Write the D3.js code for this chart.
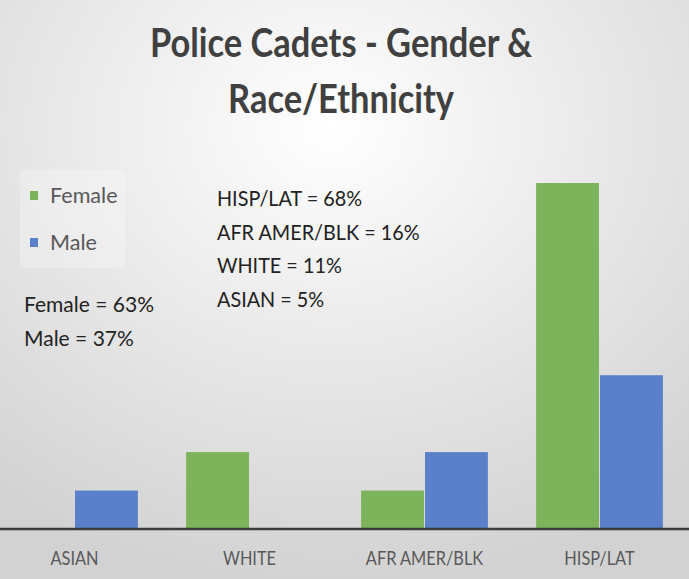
<!DOCTYPE html>
<html><head><meta charset="utf-8">
<script src="https://cdn.jsdelivr.net/npm/d3@7"></script>
<style>body{margin:0;background:#fff}svg{display:block}text{font-family:Lato,"Open Sans",sans-serif}</style>
</head><body><svg id="c" width="689" height="579"></svg>
<script>
const categories = ["ASIAN", "WHITE", "AFR AMER/BLK", "HISP/LAT"];
const seriesNames = ["Female", "Male"];
const femaleValues = [0, 2, 1, 9];
const maleValues = [1, 0, 2, 4];
const titleLines = ["Police Cadets - Gender &", "Race/Ethnicity"];
const genderNotes = ["Female = 63%", "Male = 37%"];
const raceNotes = ["HISP/LAT = 68%", "AFR AMER/BLK = 16%", "WHITE = 11%", "ASIAN = 5%"];
const colors = {Female: "#7db35a", Male: "#5a80c9"};

const W = 689, H = 579;
const svg = d3.select("#c");
const defs = svg.append("defs");
const rg = defs.append("radialGradient").attr("id","bg").attr("cx","48%").attr("cy","22%").attr("r","80%");
rg.append("stop").attr("offset","0%").attr("stop-color","#ffffff");
rg.append("stop").attr("offset","100%").attr("stop-color","#d2d2d2");
svg.append("rect").attr("width",W).attr("height",H).attr("fill","url(#bg)");

// horizontally condense text to mimic a narrow face
function condense(sel, f){
  sel.each(function(){
    const w = this.getComputedTextLength();
    d3.select(this).attr("textLength", w*f).attr("lengthAdjust","spacingAndGlyphs");
  });
}

const baseY = 529, topY = 183;
const x0 = d3.scaleBand().domain(categories).range([-13, 687]).paddingInner(0.27).paddingOuter(0.135);
const x1 = d3.scaleBand().domain(seriesNames).range([0, x0.bandwidth()]);
const y = d3.scaleLinear().domain([0, 9]).range([baseY, topY]);

const data = categories.map((c,i)=>({cat:c, vals:[{s:"Female", v:femaleValues[i]},{s:"Male", v:maleValues[i]}]}));
const g = svg.append("g");
g.selectAll("g.grp").data(data).join("g").attr("class","grp")
  .attr("transform", d=>`translate(${x0(d.cat)},0)`)
  .selectAll("rect").data(d=>d.vals.filter(e=>e.v>0)).join("rect")
  .attr("x", d=>x1(d.s)+0.5).attr("width", x1.bandwidth()-1)
  .attr("y", d=>y(d.v)).attr("height", d=>baseY - y(d.v))
  .attr("fill", d=>colors[d.s]);

// baseline axis
const ax = svg.append("g").attr("transform",`translate(0,${baseY})`)
  .call(d3.axisBottom(x0).tickSize(0));
ax.select(".domain").attr("stroke","#3c3c3c").attr("stroke-width",2.5).attr("d",`M0,0H${W}`);
ax.selectAll(".tick text").attr("font-family","Lato, sans-serif").attr("font-size",19)
  .attr("fill","#595959").attr("y",36).attr("dy",0).call(condense,0.86);

// title
svg.append("g").selectAll("text").data(titleLines).join("text")
  .attr("x", 341).attr("y",(d,i)=>57+i*56).attr("text-anchor","middle")
  .attr("font-size",41).attr("font-weight",700).attr("fill","#404040").text(d=>d)
  .call(condense,0.84);

// legend
svg.append("rect").attr("x",20).attr("y",170).attr("width",105).attr("height",98).attr("fill","#ffffff").attr("opacity",0.25);
const lg = svg.append("g").selectAll("g").data(seriesNames).join("g")
  .attr("transform",(d,i)=>`translate(30,${191+i*47})`);
lg.append("rect").attr("width",8).attr("height",9).attr("fill",d=>colors[d]);
lg.append("text").attr("x",20).attr("y",12).attr("font-size",22).attr("fill","#595959").text(d=>d).call(condense,0.98);

svg.append("g").selectAll("text").data(genderNotes).join("text")
  .attr("x",24).attr("y",(d,i)=>312+i*34).attr("font-size",22).attr("fill","#222").text(d=>d).call(condense,0.955);
svg.append("g").selectAll("text").data(raceNotes).join("text")
  .attr("x",217).attr("y",(d,i)=>206+i*33.5).attr("font-size",22).attr("fill","#222").text(d=>d).call(condense,0.9);
</script></body></html>
